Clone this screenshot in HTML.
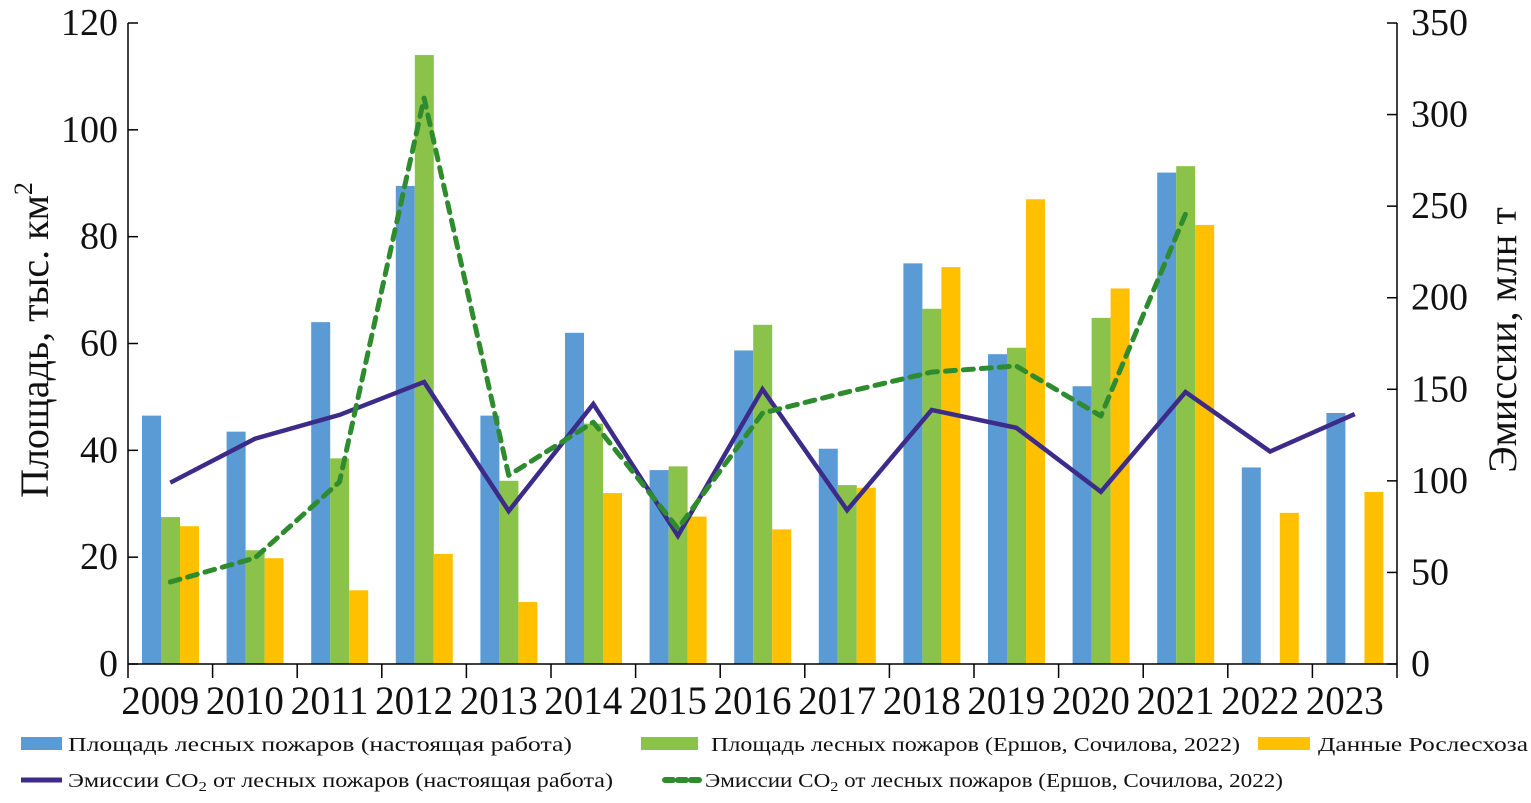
<!DOCTYPE html>
<html><head><meta charset="utf-8"><style>
html,body{margin:0;padding:0;background:#fff}
svg text{font-family:"Liberation Serif",serif;fill:#111}
</style></head><body>
<svg id="chart" width="1531" height="798" xmlns="http://www.w3.org/2000/svg">
<g id="bars"></g>
<g id="lines"></g>
<g id="axes"></g>
<g id="legend">
 <rect x="21" y="737" width="41" height="13" fill="#5B9BD5"/>
 <text x="68" y="751" font-size="20" textLength="504" lengthAdjust="spacingAndGlyphs">Площадь лесных пожаров (настоящая работа)</text>
 <rect x="641" y="737" width="57" height="13" fill="#8BC34A"/>
 <text x="711" y="751" font-size="20" textLength="529" lengthAdjust="spacingAndGlyphs">Площадь лесных пожаров (Ершов, Сочилова, 2022)</text>
 <rect x="1258" y="737" width="52" height="13" fill="#FFC000"/>
 <text x="1318" y="751" font-size="20" textLength="210" lengthAdjust="spacingAndGlyphs">Данные Рослесхоза</text>
 <line x1="21" y1="780" x2="62" y2="780" stroke="#3D2B8A" stroke-width="5"/>
 <text x="68" y="787" font-size="20" textLength="545" lengthAdjust="spacingAndGlyphs">Эмиссии CO<tspan font-size="14" dy="4">2</tspan><tspan dy="-4"> от лесных пожаров (настоящая работа)</tspan></text>
 <line x1="665" y1="780" x2="700" y2="780" stroke="#2E8B2E" stroke-width="6" stroke-dasharray="8,5" stroke-linecap="round"/>
 <text x="705" y="787" font-size="20" textLength="578" lengthAdjust="spacingAndGlyphs">Эмиссии CO<tspan font-size="14" dy="4">2</tspan><tspan dy="-4"> от лесных пожаров (Ершов, Сочилова, 2022)</tspan></text>
</g>
</svg>
<script>
const years=["2009","2010","2011","2012","2013","2014","2015","2016","2017","2018","2019","2020","2021","2022","2023"];
const areaThisWork=[46.5,43.5,64,89.5,46.5,62,36.3,58.7,40.3,75,58,52,92,36.8,47];
const areaErshov=[27.5,21.3,38.5,114,34.3,45,37,63.5,33.5,66.5,59.2,64.8,93.2,null,null];
const areaRosleskhoz=[25.8,19.8,13.8,20.6,11.6,32,27.6,25.2,33,74.3,87,70.3,82.2,28.3,32.2];
const emisThisWork=[99,123,136,154,83.5,142,70,150,84,138.7,129,94,148.5,116,136.5];
const emisErshov=[44.8,57.9,99.4,309,103,132,74,137,148.5,159.4,162.7,135.4,245.7,null,null];
const leftTicks=[0,20,40,60,80,100,120];
const rightTicks=[0,50,100,150,200,250,300,350];

const NS="http://www.w3.org/2000/svg";
const X0=128,X1=1397,Y0=664,Y1=23;
const cw=(X1-X0)/years.length;
const yL=v=>Y0-(v/120)*(Y0-Y1);
const yR=v=>Y0-(v/350)*(Y0-Y1);
const xc=i=>X0+cw*(i+0.5);
function mk(tag,attrs,parent){const e=document.createElementNS(NS,tag);for(const k in attrs)e.setAttribute(k,attrs[k]);parent.appendChild(e);return e;}
const bars=document.getElementById('bars'),lines=document.getElementById('lines'),axes=document.getElementById('axes');
const series=[[areaThisWork,"#5B9BD5","bar-area-this-work"],[areaErshov,"#8BC34A","bar-area-ershov"],[areaRosleskhoz,"#FFC000","bar-rosleskhoz"]];
const bw=19;
series.forEach((s,si)=>{s[0].forEach((v,i)=>{if(v==null)return;
 const r=mk('rect',{x:X0+cw*i+14+si*bw,y:yL(v),width:bw,height:Y0-yL(v),fill:s[1]},bars);
 
 
});});
function line(arr,color,w,dash,name){
 let d='';let started=false;
 arr.forEach((v,i)=>{if(v==null)return;d+=(started?'L':'M')+xc(i)+','+yR(v);started=true;});
 const p=mk('path',{d:d,fill:'none',stroke:color,'stroke-width':w,'stroke-linejoin':'miter'},lines);
 if(dash){p.setAttribute('stroke-dasharray',dash);p.setAttribute('stroke-linecap','round');p.setAttribute('stroke-linejoin','round');}
 
 
}
line(emisThisWork,"#3D2B8A",4.5,null,'line-emissions-this-work');
line(emisErshov,"#2E8B2E",5,"10,8",'line-emissions-ershov');
let a=mk('line',{x1:X0,y1:Y1,x2:X0,y2:Y0,stroke:'#000','stroke-width':1.5},axes);

a=mk('line',{x1:X1,y1:Y1,x2:X1,y2:Y0,stroke:'#000','stroke-width':1.5},axes);

a=mk('line',{x1:X0,y1:Y0,x2:X1,y2:Y0,stroke:'#000','stroke-width':1.5},axes);

leftTicks.forEach(t=>{
 mk('line',{x1:X0,y1:yL(t),x2:X0+10,y2:yL(t),stroke:'#000','stroke-width':1.5},axes);
 const tx=mk('text',{x:X0-10,y:yL(t)+12,'font-size':38,'text-anchor':'end'},axes);tx.textContent=t;
 
});
rightTicks.forEach(t=>{
 mk('line',{x1:X1-10,y1:yR(t),x2:X1,y2:yR(t),stroke:'#000','stroke-width':1.5},axes);
 const tx=mk('text',{x:X1+14,y:yR(t)+12,'font-size':38},axes);tx.textContent=t;
 
});
years.forEach((y,i)=>{
 mk('line',{x1:X0+cw*i,y1:Y0,x2:X0+cw*i,y2:Y0+14,stroke:'#000','stroke-width':1.5},axes);
 const tx=mk('text',{x:xc(i)-10,y:Y0+50,'font-size':40,'text-anchor':'middle',textLength:78,lengthAdjust:'spacingAndGlyphs'},axes);tx.textContent=y;
 
});
mk('line',{x1:X1,y1:Y0,x2:X1,y2:Y0+14,stroke:'#000','stroke-width':1.5},axes);
let t=mk('text',{transform:'translate(48,340) rotate(-90)','font-size':40,'text-anchor':'middle'},axes);
t.innerHTML='Площадь, тыс. км<tspan font-size="26" dy="-16">2</tspan>';

t=mk('text',{transform:'translate(1516,340) rotate(-90)','font-size':40,'text-anchor':'middle'},axes);
t.textContent='Эмиссии, млн т';

</script>
</body></html>
